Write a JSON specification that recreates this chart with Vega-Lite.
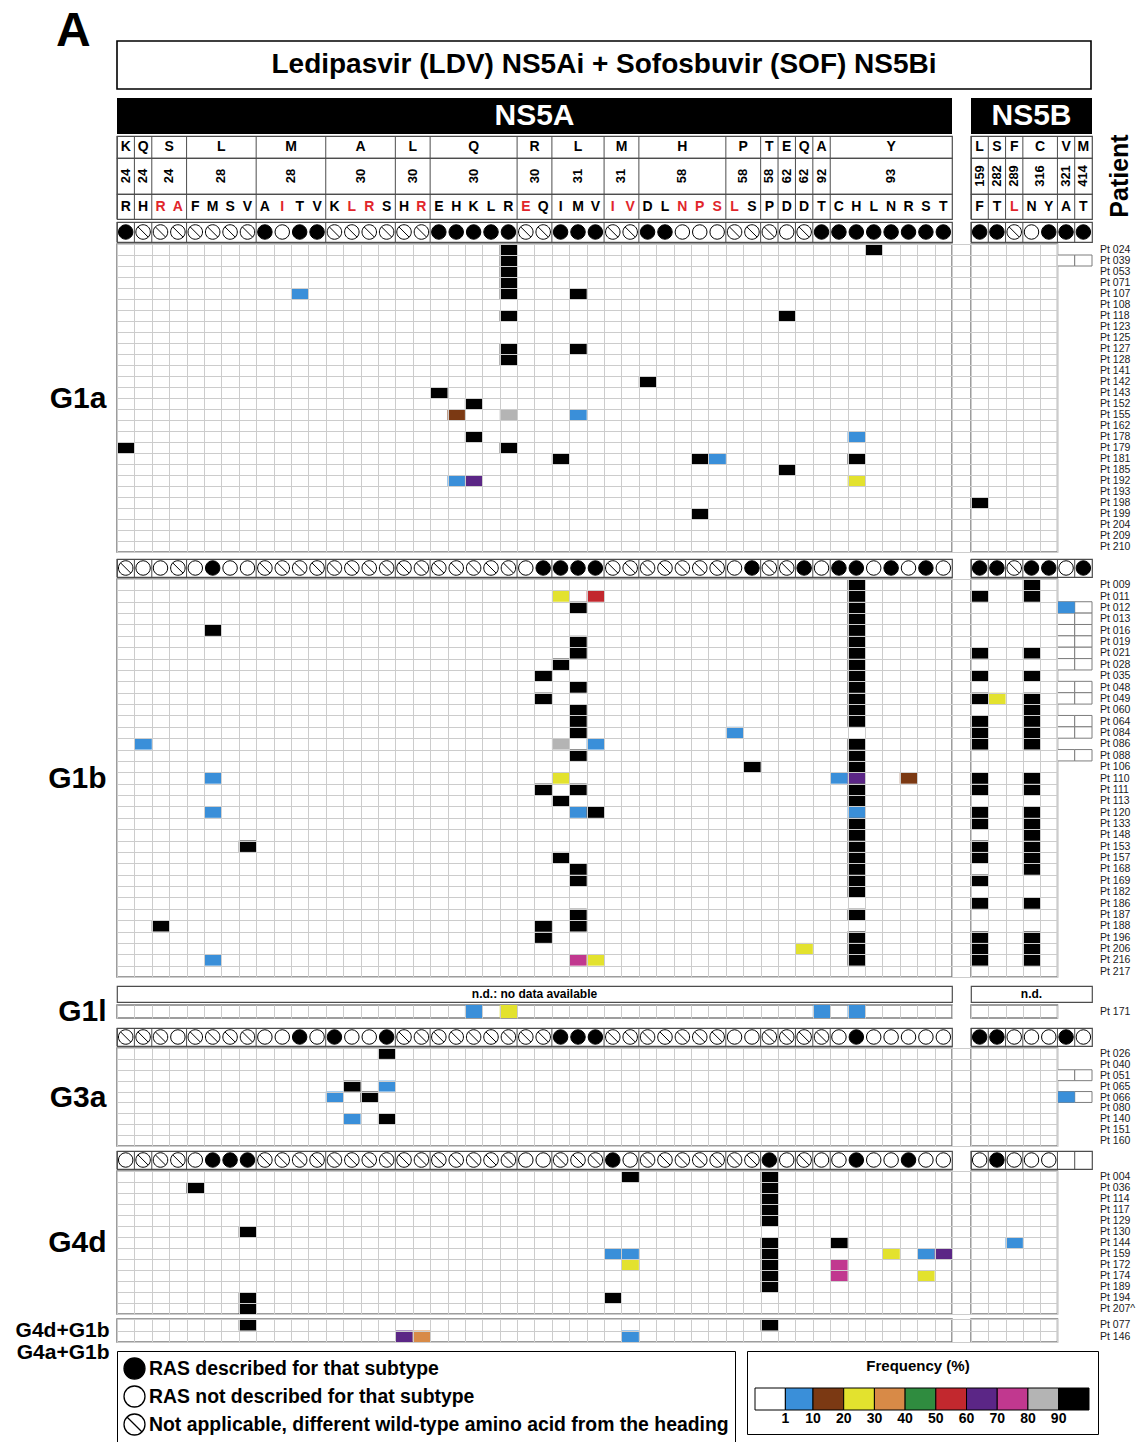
{
"$schema":"https://vega.github.io/schema/vega-lite/v6.json",
"padding":{"left":14,"top":8,"right":4,"bottom":0},
"title":{"text":"A","anchor":"start","frame":"group","fontSize":48,"fontWeight":"bold","color":"black","dx":-61,"offset":-16},
"datasets":{
"colsA":[
{"k":"K24R","aa":"R","red":0,"G1a":"R","G1b":"X","G3a":"X","G4d":"N"},
{"k":"Q24H","aa":"H","red":0,"G1a":"X","G1b":"N","G3a":"X","G4d":"X"},
{"k":"S24R","aa":"R","red":1,"G1a":"X","G1b":"N","G3a":"X","G4d":"X"},
{"k":"S24A","aa":"A","red":1,"G1a":"X","G1b":"X","G3a":"N","G4d":"X"},
{"k":"L28F","aa":"F","red":0,"G1a":"X","G1b":"N","G3a":"X","G4d":"N"},
{"k":"L28M","aa":"M","red":0,"G1a":"X","G1b":"R","G3a":"X","G4d":"R"},
{"k":"L28S","aa":"S","red":0,"G1a":"X","G1b":"N","G3a":"X","G4d":"R"},
{"k":"L28V","aa":"V","red":0,"G1a":"X","G1b":"N","G3a":"X","G4d":"R"},
{"k":"M28A","aa":"A","red":0,"G1a":"R","G1b":"X","G3a":"N","G4d":"X"},
{"k":"M28I","aa":"I","red":1,"G1a":"N","G1b":"X","G3a":"N","G4d":"X"},
{"k":"M28T","aa":"T","red":0,"G1a":"R","G1b":"X","G3a":"R","G4d":"X"},
{"k":"M28V","aa":"V","red":0,"G1a":"R","G1b":"X","G3a":"N","G4d":"X"},
{"k":"A30K","aa":"K","red":0,"G1a":"X","G1b":"X","G3a":"R","G4d":"X"},
{"k":"A30L","aa":"L","red":1,"G1a":"X","G1b":"X","G3a":"N","G4d":"X"},
{"k":"A30R","aa":"R","red":1,"G1a":"X","G1b":"X","G3a":"N","G4d":"X"},
{"k":"A30S","aa":"S","red":0,"G1a":"X","G1b":"X","G3a":"R","G4d":"X"},
{"k":"L30H","aa":"H","red":0,"G1a":"X","G1b":"X","G3a":"X","G4d":"X"},
{"k":"L30R","aa":"R","red":1,"G1a":"X","G1b":"X","G3a":"X","G4d":"X"},
{"k":"Q30E","aa":"E","red":0,"G1a":"R","G1b":"X","G3a":"X","G4d":"X"},
{"k":"Q30H","aa":"H","red":0,"G1a":"R","G1b":"X","G3a":"X","G4d":"X"},
{"k":"Q30K","aa":"K","red":0,"G1a":"R","G1b":"X","G3a":"X","G4d":"X"},
{"k":"Q30L","aa":"L","red":0,"G1a":"R","G1b":"X","G3a":"X","G4d":"X"},
{"k":"Q30R","aa":"R","red":0,"G1a":"R","G1b":"X","G3a":"X","G4d":"X"},
{"k":"R30E","aa":"E","red":1,"G1a":"X","G1b":"N","G3a":"X","G4d":"N"},
{"k":"R30Q","aa":"Q","red":0,"G1a":"X","G1b":"R","G3a":"X","G4d":"N"},
{"k":"L31I","aa":"I","red":0,"G1a":"R","G1b":"R","G3a":"R","G4d":"X"},
{"k":"L31M","aa":"M","red":0,"G1a":"R","G1b":"R","G3a":"R","G4d":"X"},
{"k":"L31V","aa":"V","red":0,"G1a":"R","G1b":"R","G3a":"R","G4d":"X"},
{"k":"M31I","aa":"I","red":1,"G1a":"X","G1b":"X","G3a":"X","G4d":"R"},
{"k":"M31V","aa":"V","red":1,"G1a":"X","G1b":"X","G3a":"X","G4d":"N"},
{"k":"H58D","aa":"D","red":0,"G1a":"R","G1b":"X","G3a":"X","G4d":"X"},
{"k":"H58L","aa":"L","red":0,"G1a":"R","G1b":"X","G3a":"X","G4d":"X"},
{"k":"H58N","aa":"N","red":1,"G1a":"N","G1b":"X","G3a":"X","G4d":"X"},
{"k":"H58P","aa":"P","red":1,"G1a":"N","G1b":"X","G3a":"X","G4d":"X"},
{"k":"H58S","aa":"S","red":1,"G1a":"N","G1b":"X","G3a":"X","G4d":"X"},
{"k":"P58L","aa":"L","red":1,"G1a":"X","G1b":"N","G3a":"N","G4d":"X"},
{"k":"P58S","aa":"S","red":0,"G1a":"X","G1b":"R","G3a":"N","G4d":"X"},
{"k":"T58P","aa":"P","red":0,"G1a":"X","G1b":"X","G3a":"X","G4d":"R"},
{"k":"E62D","aa":"D","red":0,"G1a":"N","G1b":"X","G3a":"X","G4d":"N"},
{"k":"Q62D","aa":"D","red":0,"G1a":"X","G1b":"R","G3a":"X","G4d":"X"},
{"k":"A92T","aa":"T","red":0,"G1a":"R","G1b":"N","G3a":"X","G4d":"N"},
{"k":"Y93C","aa":"C","red":0,"G1a":"R","G1b":"R","G3a":"N","G4d":"N"},
{"k":"Y93H","aa":"H","red":0,"G1a":"R","G1b":"R","G3a":"R","G4d":"R"},
{"k":"Y93L","aa":"L","red":0,"G1a":"R","G1b":"N","G3a":"N","G4d":"N"},
{"k":"Y93N","aa":"N","red":0,"G1a":"R","G1b":"R","G3a":"N","G4d":"N"},
{"k":"Y93R","aa":"R","red":0,"G1a":"R","G1b":"N","G3a":"N","G4d":"R"},
{"k":"Y93S","aa":"S","red":0,"G1a":"R","G1b":"R","G3a":"N","G4d":"N"},
{"k":"Y93T","aa":"T","red":0,"G1a":"R","G1b":"N","G3a":"N","G4d":"N"}
],
"colsB":[
{"k":"L159F","aa":"F","red":0,"G1a":"R","G1b":"R","G3a":"R","G4d":"N"},
{"k":"S282T","aa":"T","red":0,"G1a":"R","G1b":"R","G3a":"R","G4d":"R"},
{"k":"F289L","aa":"L","red":1,"G1a":"X","G1b":"X","G3a":"N","G4d":"N"},
{"k":"C316N","aa":"N","red":0,"G1a":"N","G1b":"R","G3a":"N","G4d":"N"},
{"k":"C316Y","aa":"Y","red":0,"G1a":"R","G1b":"R","G3a":"N","G4d":"N"},
{"k":"V321A","aa":"A","red":0,"G1a":"R","G1b":"N","G3a":"R","G4d":"E"},
{"k":"M414T","aa":"T","red":0,"G1a":"R","G1b":"R","G3a":"N","G4d":"E"}
],
"grpA":[
{"wt":"K","p":"24","first":"K24R","mid":"K24R","odd":1},
{"wt":"Q","p":"24","first":"Q24H","mid":"Q24H","odd":1},
{"wt":"S","p":"24","first":"S24R","mid":"S24A","odd":0},
{"wt":"L","p":"28","first":"L28F","mid":"L28S","odd":0},
{"wt":"M","p":"28","first":"M28A","mid":"M28T","odd":0},
{"wt":"A","p":"30","first":"A30K","mid":"A30R","odd":0},
{"wt":"L","p":"30","first":"L30H","mid":"L30R","odd":0},
{"wt":"Q","p":"30","first":"Q30E","mid":"Q30K","odd":1},
{"wt":"R","p":"30","first":"R30E","mid":"R30Q","odd":0},
{"wt":"L","p":"31","first":"L31I","mid":"L31M","odd":1},
{"wt":"M","p":"31","first":"M31I","mid":"M31V","odd":0},
{"wt":"H","p":"58","first":"H58D","mid":"H58N","odd":1},
{"wt":"P","p":"58","first":"P58L","mid":"P58S","odd":0},
{"wt":"T","p":"58","first":"T58P","mid":"T58P","odd":1},
{"wt":"E","p":"62","first":"E62D","mid":"E62D","odd":1},
{"wt":"Q","p":"62","first":"Q62D","mid":"Q62D","odd":1},
{"wt":"A","p":"92","first":"A92T","mid":"A92T","odd":1},
{"wt":"Y","p":"93","first":"Y93C","mid":"Y93N","odd":1}
],
"grpB":[
{"wt":"L","p":"159","first":"L159F","mid":"L159F","odd":1},
{"wt":"S","p":"282","first":"S282T","mid":"S282T","odd":1},
{"wt":"F","p":"289","first":"F289L","mid":"F289L","odd":1},
{"wt":"C","p":"316","first":"C316N","mid":"C316Y","odd":0},
{"wt":"V","p":"321","first":"V321A","mid":"V321A","odd":1},
{"wt":"M","p":"414","first":"M414T","mid":"M414T","odd":1}
],
"cA":[
{"gt":"G1a","pt":"Pt 024","k":"Q30R","f":95},{"gt":"G1a","pt":"Pt 024","k":"Y93L","f":95},
{"gt":"G1a","pt":"Pt 039","k":"Q30R","f":95},{"gt":"G1a","pt":"Pt 053","k":"Q30R","f":95},{"gt":"G1a","pt":"Pt 071","k":"Q30R","f":95},
{"gt":"G1a","pt":"Pt 107","k":"M28T","f":5},{"gt":"G1a","pt":"Pt 107","k":"Q30R","f":95},{"gt":"G1a","pt":"Pt 107","k":"L31M","f":95},
{"gt":"G1a","pt":"Pt 118","k":"Q30R","f":95},{"gt":"G1a","pt":"Pt 118","k":"E62D","f":95},
{"gt":"G1a","pt":"Pt 127","k":"Q30R","f":95},{"gt":"G1a","pt":"Pt 127","k":"L31M","f":95},
{"gt":"G1a","pt":"Pt 128","k":"Q30R","f":95},
{"gt":"G1a","pt":"Pt 142","k":"H58D","f":95},
{"gt":"G1a","pt":"Pt 143","k":"Q30E","f":95},
{"gt":"G1a","pt":"Pt 152","k":"Q30K","f":95},
{"gt":"G1a","pt":"Pt 155","k":"Q30H","f":15},{"gt":"G1a","pt":"Pt 155","k":"Q30R","f":85},{"gt":"G1a","pt":"Pt 155","k":"L31M","f":5},
{"gt":"G1a","pt":"Pt 178","k":"Q30K","f":95},{"gt":"G1a","pt":"Pt 178","k":"Y93H","f":5},
{"gt":"G1a","pt":"Pt 179","k":"K24R","f":95},{"gt":"G1a","pt":"Pt 179","k":"Q30R","f":95},
{"gt":"G1a","pt":"Pt 181","k":"L31I","f":95},{"gt":"G1a","pt":"Pt 181","k":"H58P","f":95},{"gt":"G1a","pt":"Pt 181","k":"H58S","f":5},{"gt":"G1a","pt":"Pt 181","k":"Y93H","f":95},
{"gt":"G1a","pt":"Pt 185","k":"E62D","f":95},
{"gt":"G1a","pt":"Pt 192","k":"Q30H","f":5},{"gt":"G1a","pt":"Pt 192","k":"Q30K","f":65},{"gt":"G1a","pt":"Pt 192","k":"Y93H","f":25},
{"gt":"G1a","pt":"Pt 199","k":"H58P","f":95},
{"gt":"G1b","pt":"Pt 009","k":"Y93H","f":95},
{"gt":"G1b","pt":"Pt 011","k":"L31I","f":25},{"gt":"G1b","pt":"Pt 011","k":"L31V","f":55},{"gt":"G1b","pt":"Pt 011","k":"Y93H","f":95},
{"gt":"G1b","pt":"Pt 012","k":"L31M","f":95},{"gt":"G1b","pt":"Pt 012","k":"Y93H","f":95},
{"gt":"G1b","pt":"Pt 013","k":"Y93H","f":95},
{"gt":"G1b","pt":"Pt 016","k":"L28M","f":95},{"gt":"G1b","pt":"Pt 016","k":"Y93H","f":95},
{"gt":"G1b","pt":"Pt 019","k":"L31M","f":95},{"gt":"G1b","pt":"Pt 019","k":"Y93H","f":95},
{"gt":"G1b","pt":"Pt 021","k":"L31M","f":95},{"gt":"G1b","pt":"Pt 021","k":"Y93H","f":95},
{"gt":"G1b","pt":"Pt 028","k":"L31I","f":95},{"gt":"G1b","pt":"Pt 028","k":"Y93H","f":95},
{"gt":"G1b","pt":"Pt 035","k":"R30Q","f":95},{"gt":"G1b","pt":"Pt 035","k":"Y93H","f":95},
{"gt":"G1b","pt":"Pt 048","k":"L31M","f":95},{"gt":"G1b","pt":"Pt 048","k":"Y93H","f":95},
{"gt":"G1b","pt":"Pt 049","k":"R30Q","f":95},{"gt":"G1b","pt":"Pt 049","k":"Y93H","f":95},
{"gt":"G1b","pt":"Pt 060","k":"L31M","f":95},{"gt":"G1b","pt":"Pt 060","k":"Y93H","f":95},
{"gt":"G1b","pt":"Pt 064","k":"L31M","f":95},{"gt":"G1b","pt":"Pt 064","k":"Y93H","f":95},
{"gt":"G1b","pt":"Pt 084","k":"L31M","f":95},{"gt":"G1b","pt":"Pt 084","k":"P58L","f":5},
{"gt":"G1b","pt":"Pt 086","k":"Q24H","f":5},{"gt":"G1b","pt":"Pt 086","k":"L31I","f":85},{"gt":"G1b","pt":"Pt 086","k":"L31V","f":5},{"gt":"G1b","pt":"Pt 086","k":"Y93H","f":95},
{"gt":"G1b","pt":"Pt 088","k":"L31M","f":95},{"gt":"G1b","pt":"Pt 088","k":"Y93H","f":95},
{"gt":"G1b","pt":"Pt 106","k":"P58S","f":95},{"gt":"G1b","pt":"Pt 106","k":"Y93H","f":95},
{"gt":"G1b","pt":"Pt 110","k":"L28M","f":5},{"gt":"G1b","pt":"Pt 110","k":"L31I","f":25},{"gt":"G1b","pt":"Pt 110","k":"Y93C","f":5},{"gt":"G1b","pt":"Pt 110","k":"Y93H","f":65},{"gt":"G1b","pt":"Pt 110","k":"Y93R","f":15},
{"gt":"G1b","pt":"Pt 111","k":"R30Q","f":95},{"gt":"G1b","pt":"Pt 111","k":"L31M","f":95},{"gt":"G1b","pt":"Pt 111","k":"Y93H","f":95},
{"gt":"G1b","pt":"Pt 113","k":"L31I","f":95},{"gt":"G1b","pt":"Pt 113","k":"Y93H","f":95},
{"gt":"G1b","pt":"Pt 120","k":"L28M","f":5},{"gt":"G1b","pt":"Pt 120","k":"L31M","f":5},{"gt":"G1b","pt":"Pt 120","k":"L31V","f":95},{"gt":"G1b","pt":"Pt 120","k":"Y93H","f":5},
{"gt":"G1b","pt":"Pt 133","k":"Y93H","f":95},
{"gt":"G1b","pt":"Pt 148","k":"Y93H","f":95},
{"gt":"G1b","pt":"Pt 153","k":"L28V","f":95},{"gt":"G1b","pt":"Pt 153","k":"Y93H","f":95},
{"gt":"G1b","pt":"Pt 157","k":"L31I","f":95},{"gt":"G1b","pt":"Pt 157","k":"Y93H","f":95},
{"gt":"G1b","pt":"Pt 168","k":"L31M","f":95},{"gt":"G1b","pt":"Pt 168","k":"Y93H","f":95},
{"gt":"G1b","pt":"Pt 169","k":"L31M","f":95},{"gt":"G1b","pt":"Pt 169","k":"Y93H","f":95},
{"gt":"G1b","pt":"Pt 182","k":"Y93H","f":95},
{"gt":"G1b","pt":"Pt 187","k":"L31M","f":95},{"gt":"G1b","pt":"Pt 187","k":"Y93H","f":95},
{"gt":"G1b","pt":"Pt 188","k":"S24R","f":95},{"gt":"G1b","pt":"Pt 188","k":"R30Q","f":95},{"gt":"G1b","pt":"Pt 188","k":"L31M","f":95},
{"gt":"G1b","pt":"Pt 196","k":"R30Q","f":95},{"gt":"G1b","pt":"Pt 196","k":"Y93H","f":95},
{"gt":"G1b","pt":"Pt 206","k":"Q62D","f":25},{"gt":"G1b","pt":"Pt 206","k":"Y93H","f":95},
{"gt":"G1b","pt":"Pt 216","k":"L28M","f":5},{"gt":"G1b","pt":"Pt 216","k":"L31M","f":75},{"gt":"G1b","pt":"Pt 216","k":"L31V","f":25},{"gt":"G1b","pt":"Pt 216","k":"Y93H","f":95},
{"gt":"G1l","pt":"Pt 171","k":"Q30K","f":5},{"gt":"G1l","pt":"Pt 171","k":"Q30R","f":25},{"gt":"G1l","pt":"Pt 171","k":"A92T","f":5},{"gt":"G1l","pt":"Pt 171","k":"Y93H","f":5},
{"gt":"G3a","pt":"Pt 026","k":"A30S","f":95},
{"gt":"G3a","pt":"Pt 065","k":"A30L","f":95},{"gt":"G3a","pt":"Pt 065","k":"A30S","f":5},
{"gt":"G3a","pt":"Pt 066","k":"A30K","f":5},{"gt":"G3a","pt":"Pt 066","k":"A30R","f":95},
{"gt":"G3a","pt":"Pt 140","k":"A30L","f":5},{"gt":"G3a","pt":"Pt 140","k":"A30S","f":95},
{"gt":"G4d","pt":"Pt 004","k":"M31V","f":95},{"gt":"G4d","pt":"Pt 004","k":"T58P","f":95},
{"gt":"G4d","pt":"Pt 036","k":"L28F","f":95},{"gt":"G4d","pt":"Pt 036","k":"T58P","f":95},
{"gt":"G4d","pt":"Pt 114","k":"T58P","f":95},
{"gt":"G4d","pt":"Pt 117","k":"T58P","f":95},
{"gt":"G4d","pt":"Pt 129","k":"T58P","f":95},
{"gt":"G4d","pt":"Pt 130","k":"L28V","f":95},
{"gt":"G4d","pt":"Pt 144","k":"T58P","f":95},{"gt":"G4d","pt":"Pt 144","k":"Y93C","f":95},
{"gt":"G4d","pt":"Pt 159","k":"M31I","f":5},{"gt":"G4d","pt":"Pt 159","k":"M31V","f":5},{"gt":"G4d","pt":"Pt 159","k":"T58P","f":95},{"gt":"G4d","pt":"Pt 159","k":"Y93N","f":25},{"gt":"G4d","pt":"Pt 159","k":"Y93S","f":5},{"gt":"G4d","pt":"Pt 159","k":"Y93T","f":65},
{"gt":"G4d","pt":"Pt 172","k":"M31V","f":25},{"gt":"G4d","pt":"Pt 172","k":"T58P","f":95},{"gt":"G4d","pt":"Pt 172","k":"Y93C","f":75},
{"gt":"G4d","pt":"Pt 174","k":"T58P","f":95},{"gt":"G4d","pt":"Pt 174","k":"Y93C","f":75},{"gt":"G4d","pt":"Pt 174","k":"Y93S","f":25},
{"gt":"G4d","pt":"Pt 189","k":"T58P","f":95},
{"gt":"G4d","pt":"Pt 194","k":"L28V","f":95},{"gt":"G4d","pt":"Pt 194","k":"M31I","f":95},
{"gt":"G4d","pt":"Pt 207^","k":"L28V","f":95},
{"gt":"MX","pt":"Pt 077","k":"L28V","f":95},{"gt":"MX","pt":"Pt 077","k":"T58P","f":95},
{"gt":"MX","pt":"Pt 146","k":"L30H","f":65},{"gt":"MX","pt":"Pt 146","k":"L30R","f":35},{"gt":"MX","pt":"Pt 146","k":"M31V","f":5}
],
"cB":[
{"gt":"G1a","pt":"Pt 198","k":"L159F","f":95},
{"gt":"G1b","pt":"Pt 009","k":"C316N","f":95},
{"gt":"G1b","pt":"Pt 011","k":"L159F","f":95},{"gt":"G1b","pt":"Pt 011","k":"C316N","f":95},
{"gt":"G1b","pt":"Pt 012","k":"V321A","f":5},
{"gt":"G1b","pt":"Pt 021","k":"L159F","f":95},{"gt":"G1b","pt":"Pt 021","k":"C316N","f":95},
{"gt":"G1b","pt":"Pt 035","k":"L159F","f":95},{"gt":"G1b","pt":"Pt 035","k":"C316N","f":95},
{"gt":"G1b","pt":"Pt 049","k":"L159F","f":95},{"gt":"G1b","pt":"Pt 049","k":"S282T","f":25},{"gt":"G1b","pt":"Pt 049","k":"C316N","f":95},
{"gt":"G1b","pt":"Pt 060","k":"C316N","f":95},
{"gt":"G1b","pt":"Pt 064","k":"L159F","f":95},{"gt":"G1b","pt":"Pt 064","k":"C316N","f":95},
{"gt":"G1b","pt":"Pt 084","k":"L159F","f":95},{"gt":"G1b","pt":"Pt 084","k":"C316N","f":95},
{"gt":"G1b","pt":"Pt 086","k":"L159F","f":95},{"gt":"G1b","pt":"Pt 086","k":"C316N","f":95},
{"gt":"G1b","pt":"Pt 110","k":"L159F","f":95},{"gt":"G1b","pt":"Pt 110","k":"C316N","f":95},
{"gt":"G1b","pt":"Pt 111","k":"L159F","f":95},{"gt":"G1b","pt":"Pt 111","k":"C316N","f":95},
{"gt":"G1b","pt":"Pt 120","k":"L159F","f":95},{"gt":"G1b","pt":"Pt 120","k":"C316N","f":95},
{"gt":"G1b","pt":"Pt 133","k":"L159F","f":95},{"gt":"G1b","pt":"Pt 133","k":"C316N","f":95},
{"gt":"G1b","pt":"Pt 148","k":"C316N","f":95},
{"gt":"G1b","pt":"Pt 153","k":"L159F","f":95},{"gt":"G1b","pt":"Pt 153","k":"C316N","f":95},
{"gt":"G1b","pt":"Pt 157","k":"L159F","f":95},{"gt":"G1b","pt":"Pt 157","k":"C316N","f":95},
{"gt":"G1b","pt":"Pt 168","k":"C316N","f":95},
{"gt":"G1b","pt":"Pt 169","k":"L159F","f":95},
{"gt":"G1b","pt":"Pt 186","k":"L159F","f":95},{"gt":"G1b","pt":"Pt 186","k":"C316N","f":95},
{"gt":"G1b","pt":"Pt 196","k":"L159F","f":95},{"gt":"G1b","pt":"Pt 196","k":"C316N","f":95},
{"gt":"G1b","pt":"Pt 206","k":"L159F","f":95},{"gt":"G1b","pt":"Pt 206","k":"C316N","f":95},
{"gt":"G1b","pt":"Pt 216","k":"L159F","f":95},{"gt":"G1b","pt":"Pt 216","k":"C316N","f":95},
{"gt":"G3a","pt":"Pt 066","k":"V321A","f":5},
{"gt":"G4d","pt":"Pt 144","k":"F289L","f":5}
],
"xB":[
{"gt":"G1a","pt":"Pt 039","k":"V321A"},{"gt":"G1a","pt":"Pt 039","k":"M414T"},
{"gt":"G1b","pt":"Pt 012","k":"V321A"},{"gt":"G1b","pt":"Pt 012","k":"M414T"},
{"gt":"G1b","pt":"Pt 013","k":"V321A"},{"gt":"G1b","pt":"Pt 013","k":"M414T"},
{"gt":"G1b","pt":"Pt 016","k":"V321A"},{"gt":"G1b","pt":"Pt 016","k":"M414T"},
{"gt":"G1b","pt":"Pt 019","k":"V321A"},{"gt":"G1b","pt":"Pt 019","k":"M414T"},
{"gt":"G1b","pt":"Pt 021","k":"V321A"},{"gt":"G1b","pt":"Pt 021","k":"M414T"},
{"gt":"G1b","pt":"Pt 028","k":"V321A"},{"gt":"G1b","pt":"Pt 028","k":"M414T"},
{"gt":"G1b","pt":"Pt 048","k":"V321A"},{"gt":"G1b","pt":"Pt 048","k":"M414T"},
{"gt":"G1b","pt":"Pt 049","k":"V321A"},{"gt":"G1b","pt":"Pt 049","k":"M414T"},
{"gt":"G1b","pt":"Pt 064","k":"V321A"},{"gt":"G1b","pt":"Pt 064","k":"M414T"},
{"gt":"G1b","pt":"Pt 084","k":"V321A"},{"gt":"G1b","pt":"Pt 084","k":"M414T"},
{"gt":"G1b","pt":"Pt 088","k":"V321A"},{"gt":"G1b","pt":"Pt 088","k":"M414T"},
{"gt":"G3a","pt":"Pt 051","k":"V321A"},{"gt":"G3a","pt":"Pt 051","k":"M414T"},
{"gt":"G3a","pt":"Pt 066","k":"V321A"},{"gt":"G3a","pt":"Pt 066","k":"M414T"}
]
},
"columns":2,
"spacing":{"row":0,"column":19},
"bounds":"flush",
"align":"each",
"concat":[
{"width":835,"height":48,"data":{"values":[{"t":"Ledipasvir (LDV) NS5Ai + Sofosbuvir (SOF) NS5Bi"}]},"encoding":{"x":{"field":"t","type":"nominal","scale":{"range":[0,974],"paddingInner":0,"paddingOuter":0},"axis":null}},"layer":[{"mark":{"type":"rect","fill":"white","stroke":"black","strokeWidth":1.6}},{"mark":{"type":"text","fontSize":28,"fontWeight":"bold"},"encoding":{"text":{"field":"t"}}}]},
{"width":1,"height":48,"data":{"values":[]},"mark":"text","encoding":{}},
{"width":1,"height":9,"data":{"values":[]},"mark":"text","encoding":{}},
{"width":1,"height":9,"data":{"values":[]},"mark":"text","encoding":{}},
{"width":835,"height":36,"view":{"fill":"black","stroke":null},"data":{"values":[{"t":"NS5A"}]},"mark":{"type":"text","fontSize":30,"fontWeight":"bold","color":"white"},"encoding":{"text":{"field":"t"}}},
{"width":121,"height":36,"view":{"fill":"black","stroke":null},"data":{"values":[{"t":"NS5B"}]},"mark":{"type":"text","fontSize":30,"fontWeight":"bold","color":"white"},"encoding":{"text":{"field":"t"}}},
{"width":1,"height":2,"data":{"values":[]},"mark":"text","encoding":{}},
{"width":1,"height":2,"data":{"values":[]},"mark":"text","encoding":{}},
{"width":835,"height":22,"view":{"stroke":"#4d4d4d","strokeWidth":1.2},"data":{"name":"grpA"},"layer":[
 {"transform":[{"filter":"datum.odd == 1"}],"mark":{"type":"text","fontSize":14,"fontWeight":"bold"},"encoding":{"x":{"field":"mid","type":"nominal","scale":{"domain":["K24R","Q24H","S24R","S24A","L28F","L28M","L28S","L28V","M28A","M28I","M28T","M28V","A30K","A30L","A30R","A30S","L30H","L30R","Q30E","Q30H","Q30K","Q30L","Q30R","R30E","R30Q","L31I","L31M","L31V","M31I","M31V","H58D","H58L","H58N","H58P","H58S","P58L","P58S","T58P","E62D","Q62D","A92T","Y93C","Y93H","Y93L","Y93N","Y93R","Y93S","Y93T"],"paddingInner":0,"paddingOuter":0},"axis":null},"text":{"field":"wt"}}},
 {"transform":[{"filter":"datum.odd == 0"}],"mark":{"type":"text","fontSize":14,"fontWeight":"bold"},"encoding":{"x":{"field":"mid","type":"nominal","bandPosition":0,"scale":{"domain":["K24R","Q24H","S24R","S24A","L28F","L28M","L28S","L28V","M28A","M28I","M28T","M28V","A30K","A30L","A30R","A30S","L30H","L30R","Q30E","Q30H","Q30K","Q30L","Q30R","R30E","R30Q","L31I","L31M","L31V","M31I","M31V","H58D","H58L","H58N","H58P","H58S","P58L","P58S","T58P","E62D","Q62D","A92T","Y93C","Y93H","Y93L","Y93N","Y93R","Y93S","Y93T"],"paddingInner":0,"paddingOuter":0},"axis":null},"text":{"field":"wt"}}},
 {"mark":{"type":"rule","color":"#4d4d4d","strokeWidth":1},"encoding":{"x":{"field":"first","type":"nominal","bandPosition":0,"scale":{"domain":["K24R","Q24H","S24R","S24A","L28F","L28M","L28S","L28V","M28A","M28I","M28T","M28V","A30K","A30L","A30R","A30S","L30H","L30R","Q30E","Q30H","Q30K","Q30L","Q30R","R30E","R30Q","L31I","L31M","L31V","M31I","M31V","H58D","H58L","H58N","H58P","H58S","P58L","P58S","T58P","E62D","Q62D","A92T","Y93C","Y93H","Y93L","Y93N","Y93R","Y93S","Y93T"],"paddingInner":0,"paddingOuter":0},"axis":null}}}
]},
{"width":121,"height":22,"view":{"stroke":"#4d4d4d","strokeWidth":1.2},"data":{"name":"grpB"},"layer":[
 {"transform":[{"filter":"datum.odd == 1"}],"mark":{"type":"text","fontSize":14,"fontWeight":"bold"},"encoding":{"x":{"field":"mid","type":"nominal","scale":{"domain":["L159F","S282T","F289L","C316N","C316Y","V321A","M414T"],"paddingInner":0,"paddingOuter":0},"axis":null},"text":{"field":"wt"}}},
 {"transform":[{"filter":"datum.odd == 0"}],"mark":{"type":"text","fontSize":14,"fontWeight":"bold"},"encoding":{"x":{"field":"mid","type":"nominal","bandPosition":0,"scale":{"domain":["L159F","S282T","F289L","C316N","C316Y","V321A","M414T"],"paddingInner":0,"paddingOuter":0},"axis":null},"text":{"field":"wt"}}},
 {"mark":{"type":"rule","color":"#4d4d4d","strokeWidth":1},"encoding":{"x":{"field":"first","type":"nominal","bandPosition":0,"scale":{"domain":["L159F","S282T","F289L","C316N","C316Y","V321A","M414T"],"paddingInner":0,"paddingOuter":0},"axis":null}}}
]},
{"width":835,"height":36,"view":{"stroke":"#4d4d4d","strokeWidth":1.2},"data":{"name":"grpA"},"layer":[
 {"transform":[{"filter":"datum.odd == 1"}],"mark":{"type":"text","fontSize":13,"fontWeight":"bold","angle":270},"encoding":{"x":{"field":"mid","type":"nominal","scale":{"domain":["K24R","Q24H","S24R","S24A","L28F","L28M","L28S","L28V","M28A","M28I","M28T","M28V","A30K","A30L","A30R","A30S","L30H","L30R","Q30E","Q30H","Q30K","Q30L","Q30R","R30E","R30Q","L31I","L31M","L31V","M31I","M31V","H58D","H58L","H58N","H58P","H58S","P58L","P58S","T58P","E62D","Q62D","A92T","Y93C","Y93H","Y93L","Y93N","Y93R","Y93S","Y93T"],"paddingInner":0,"paddingOuter":0},"axis":null},"text":{"field":"p"}}},
 {"transform":[{"filter":"datum.odd == 0"}],"mark":{"type":"text","fontSize":13,"fontWeight":"bold","angle":270},"encoding":{"x":{"field":"mid","type":"nominal","bandPosition":0,"scale":{"domain":["K24R","Q24H","S24R","S24A","L28F","L28M","L28S","L28V","M28A","M28I","M28T","M28V","A30K","A30L","A30R","A30S","L30H","L30R","Q30E","Q30H","Q30K","Q30L","Q30R","R30E","R30Q","L31I","L31M","L31V","M31I","M31V","H58D","H58L","H58N","H58P","H58S","P58L","P58S","T58P","E62D","Q62D","A92T","Y93C","Y93H","Y93L","Y93N","Y93R","Y93S","Y93T"],"paddingInner":0,"paddingOuter":0},"axis":null},"text":{"field":"p"}}},
 {"mark":{"type":"rule","color":"#4d4d4d","strokeWidth":1},"encoding":{"x":{"field":"first","type":"nominal","bandPosition":0,"scale":{"domain":["K24R","Q24H","S24R","S24A","L28F","L28M","L28S","L28V","M28A","M28I","M28T","M28V","A30K","A30L","A30R","A30S","L30H","L30R","Q30E","Q30H","Q30K","Q30L","Q30R","R30E","R30Q","L31I","L31M","L31V","M31I","M31V","H58D","H58L","H58N","H58P","H58S","P58L","P58S","T58P","E62D","Q62D","A92T","Y93C","Y93H","Y93L","Y93N","Y93R","Y93S","Y93T"],"paddingInner":0,"paddingOuter":0},"axis":null}}}
]},
{"width":121,"height":36,"view":{"stroke":"#4d4d4d","strokeWidth":1.2},"title":{"text":"Patient","orient":"right","frame":"group","angle":270,"baseline":"top","anchor":"middle","fontSize":25,"fontWeight":"bold","color":"black","offset":-9},"data":{"name":"grpB"},"layer":[
 {"transform":[{"filter":"datum.odd == 1"}],"mark":{"type":"text","fontSize":13,"fontWeight":"bold","angle":270},"encoding":{"x":{"field":"mid","type":"nominal","scale":{"domain":["L159F","S282T","F289L","C316N","C316Y","V321A","M414T"],"paddingInner":0,"paddingOuter":0},"axis":null},"text":{"field":"p"}}},
 {"transform":[{"filter":"datum.odd == 0"}],"mark":{"type":"text","fontSize":13,"fontWeight":"bold","angle":270},"encoding":{"x":{"field":"mid","type":"nominal","bandPosition":0,"scale":{"domain":["L159F","S282T","F289L","C316N","C316Y","V321A","M414T"],"paddingInner":0,"paddingOuter":0},"axis":null},"text":{"field":"p"}}},
 {"mark":{"type":"rule","color":"#4d4d4d","strokeWidth":1},"encoding":{"x":{"field":"first","type":"nominal","bandPosition":0,"scale":{"domain":["L159F","S282T","F289L","C316N","C316Y","V321A","M414T"],"paddingInner":0,"paddingOuter":0},"axis":null}}}
]},
{"width":835,"height":25,"view":{"stroke":"#4d4d4d","strokeWidth":1.2},"layer":[
 {"data":{"name":"colsA"},"mark":{"type":"text","fontSize":14,"fontWeight":"bold"},"encoding":{"x":{"field":"k","type":"nominal","scale":{"domain":["K24R","Q24H","S24R","S24A","L28F","L28M","L28S","L28V","M28A","M28I","M28T","M28V","A30K","A30L","A30R","A30S","L30H","L30R","Q30E","Q30H","Q30K","Q30L","Q30R","R30E","R30Q","L31I","L31M","L31V","M31I","M31V","H58D","H58L","H58N","H58P","H58S","P58L","P58S","T58P","E62D","Q62D","A92T","Y93C","Y93H","Y93L","Y93N","Y93R","Y93S","Y93T"],"paddingInner":0,"paddingOuter":0},"axis":null},"text":{"field":"aa"},"color":{"condition":{"test":"datum.red == 1","value":"#e1252b"},"value":"black"}}},
 {"data":{"name":"grpA"},"mark":{"type":"rule","color":"#4d4d4d","strokeWidth":1},"encoding":{"x":{"field":"first","type":"nominal","bandPosition":0,"scale":{"domain":["K24R","Q24H","S24R","S24A","L28F","L28M","L28S","L28V","M28A","M28I","M28T","M28V","A30K","A30L","A30R","A30S","L30H","L30R","Q30E","Q30H","Q30K","Q30L","Q30R","R30E","R30Q","L31I","L31M","L31V","M31I","M31V","H58D","H58L","H58N","H58P","H58S","P58L","P58S","T58P","E62D","Q62D","A92T","Y93C","Y93H","Y93L","Y93N","Y93R","Y93S","Y93T"],"paddingInner":0,"paddingOuter":0},"axis":null}}}
]},
{"width":121,"height":25,"view":{"stroke":"#4d4d4d","strokeWidth":1.2},"layer":[
 {"data":{"name":"colsB"},"mark":{"type":"text","fontSize":14,"fontWeight":"bold"},"encoding":{"x":{"field":"k","type":"nominal","scale":{"domain":["L159F","S282T","F289L","C316N","C316Y","V321A","M414T"],"paddingInner":0,"paddingOuter":0},"axis":null},"text":{"field":"aa"},"color":{"condition":{"test":"datum.red == 1","value":"#e1252b"},"value":"black"}}},
 {"data":{"name":"grpB"},"mark":{"type":"rule","color":"#4d4d4d","strokeWidth":1},"encoding":{"x":{"field":"first","type":"nominal","bandPosition":0,"scale":{"domain":["L159F","S282T","F289L","C316N","C316Y","V321A","M414T"],"paddingInner":0,"paddingOuter":0},"axis":null}}}
]},
{"width":1,"height":3,"data":{"values":[]},"mark":"text","encoding":{}},
{"width":1,"height":3,"data":{"values":[]},"mark":"text","encoding":{}},
{"width":835,"height":20,"view":{"stroke":"#4d4d4d","strokeWidth":1.2},"layer":[
 {"data":{"name":"colsA"},"mark":{"type":"point","filled":true,"size":210,"strokeWidth":1,"opacity":1},"encoding":{"x":{"field":"k","type":"nominal","scale":{"domain":["K24R","Q24H","S24R","S24A","L28F","L28M","L28S","L28V","M28A","M28I","M28T","M28V","A30K","A30L","A30R","A30S","L30H","L30R","Q30E","Q30H","Q30K","Q30L","Q30R","R30E","R30Q","L31I","L31M","L31V","M31I","M31V","H58D","H58L","H58N","H58P","H58S","P58L","P58S","T58P","E62D","Q62D","A92T","Y93C","Y93H","Y93L","Y93N","Y93R","Y93S","Y93T"],"paddingInner":0,"paddingOuter":0},"axis":null},
  "fill":{"field":"G1a","type":"nominal","scale":{"domain":["R","N","X"],"range":["black","white","white"]},"legend":{"title":null,"orient":"none","legendX":0,"legendY":1310,"labelExpr":"datum.label == 'R' ? 'RAS described for that subtype' : datum.label == 'N' ? 'RAS not described for that subtype' : 'Not applicable, different wild-type amino acid from the heading'","labelFont":"Liberation Sans","labelFontSize":19.4,"labelFontWeight":"bold","labelColor":"black","labelLimit":900,"labelOffset":3,"symbolSize":440,"symbolStrokeWidth":1.3,"rowPadding":1,"strokeColor":"black","fillColor":"white","padding":6}},
  "stroke":{"field":"G1a","type":"nominal","scale":{"domain":["R","N","X"],"range":["black","black","black"]},"legend":{"title":null,"orient":"none","legendX":0,"legendY":1310,"labelExpr":"datum.label == 'R' ? 'RAS described for that subtype' : datum.label == 'N' ? 'RAS not described for that subtype' : 'Not applicable, different wild-type amino acid from the heading'","labelFont":"Liberation Sans","labelFontSize":19.4,"labelFontWeight":"bold","labelColor":"black","labelLimit":900,"labelOffset":3,"symbolSize":440,"symbolStrokeWidth":1.3,"rowPadding":1,"strokeColor":"black","fillColor":"white","padding":6}},
  "shape":{"field":"G1a","type":"nominal","scale":{"domain":["R","N","X"],"range":["circle","circle","M-1,0A1,1,0,1,1,1,0A1,1,0,1,1,-1,0ZM-0.72,-0.72L0.72,0.72"]},"legend":{"title":null,"orient":"none","legendX":0,"legendY":1310,"labelExpr":"datum.label == 'R' ? 'RAS described for that subtype' : datum.label == 'N' ? 'RAS not described for that subtype' : 'Not applicable, different wild-type amino acid from the heading'","labelFont":"Liberation Sans","labelFontSize":19.4,"labelFontWeight":"bold","labelColor":"black","labelLimit":900,"labelOffset":3,"symbolSize":440,"symbolStrokeWidth":1.3,"rowPadding":1,"strokeColor":"black","fillColor":"white","padding":6}}}},
 {"data":{"name":"grpA"},"mark":{"type":"rule","color":"#4d4d4d","strokeWidth":1},"encoding":{"x":{"field":"first","type":"nominal","bandPosition":0,"scale":{"domain":["K24R","Q24H","S24R","S24A","L28F","L28M","L28S","L28V","M28A","M28I","M28T","M28V","A30K","A30L","A30R","A30S","L30H","L30R","Q30E","Q30H","Q30K","Q30L","Q30R","R30E","R30Q","L31I","L31M","L31V","M31I","M31V","H58D","H58L","H58N","H58P","H58S","P58L","P58S","T58P","E62D","Q62D","A92T","Y93C","Y93H","Y93L","Y93N","Y93R","Y93S","Y93T"],"paddingInner":0,"paddingOuter":0},"axis":null}}}
]},
{"width":121,"height":20,"view":{"stroke":"#4d4d4d","strokeWidth":1.2},"layer":[
 {"data":{"name":"colsB"},"mark":{"type":"point","filled":true,"size":210,"strokeWidth":1,"opacity":1},"encoding":{"x":{"field":"k","type":"nominal","scale":{"domain":["L159F","S282T","F289L","C316N","C316Y","V321A","M414T"],"paddingInner":0,"paddingOuter":0},"axis":null},"fill":{"field":"G1a","type":"nominal","scale":{"domain":["R","N","X"],"range":["black","white","white"]}},"stroke":{"field":"G1a","type":"nominal","scale":{"domain":["R","N","X"],"range":["black","black","black"]}},"shape":{"field":"G1a","type":"nominal","scale":{"domain":["R","N","X"],"range":["circle","circle","M-1,0A1,1,0,1,1,1,0A1,1,0,1,1,-1,0ZM-0.72,-0.72L0.72,0.72"]}}}},
 {"data":{"name":"grpB"},"mark":{"type":"rule","color":"#4d4d4d","strokeWidth":1},"encoding":{"x":{"field":"first","type":"nominal","bandPosition":0,"scale":{"domain":["L159F","S282T","F289L","C316N","C316Y","V321A","M414T"],"paddingInner":0,"paddingOuter":0},"axis":null}}}
]},
{"width":1,"height":2,"data":{"values":[]},"mark":"text","encoding":{}},
{"width":1,"height":2,"data":{"values":[]},"mark":"text","encoding":{}},
{"width":835,"height":308,"view":{"stroke":"#7d7d7d","strokeWidth":1.5},"data":{"name":"cA"},"transform":[{"filter":"datum.gt == 'G1a'"}],"mark":{"type":"rect"},"encoding":{
 "x":{"field":"k","type":"nominal","scale":{"domain":["K24R","Q24H","S24R","S24A","L28F","L28M","L28S","L28V","M28A","M28I","M28T","M28V","A30K","A30L","A30R","A30S","L30H","L30R","Q30E","Q30H","Q30K","Q30L","Q30R","R30E","R30Q","L31I","L31M","L31V","M31I","M31V","H58D","H58L","H58N","H58P","H58S","P58L","P58S","T58P","E62D","Q62D","A92T","Y93C","Y93H","Y93L","Y93N","Y93R","Y93S","Y93T"],"paddingInner":0,"paddingOuter":0},"axis":{"orient":"top","labels":false,"ticks":false,"domain":false,"title":null,"grid":true,"tickBand":"extent","gridColor":"#cccccc","gridWidth":1}},
 "y":{"field":"pt","type":"nominal","scale":{"domain":["Pt 024","Pt 039","Pt 053","Pt 071","Pt 107","Pt 108","Pt 118","Pt 123","Pt 125","Pt 127","Pt 128","Pt 141","Pt 142","Pt 143","Pt 152","Pt 155","Pt 162","Pt 178","Pt 179","Pt 181","Pt 185","Pt 192","Pt 193","Pt 198","Pt 199","Pt 204","Pt 209","Pt 210"],"paddingInner":0,"paddingOuter":0},"axis":{"labels":false,"ticks":false,"domain":false,"grid":true,"tickBand":"extent","gridColor":"#cccccc","title":"G1a","titleAngle":0,"titleAlign":"right","titleBaseline":"middle","titleFontSize":30,"titleFontWeight":"bold","titlePadding":11,"titleColor":"black"}},
 "color":{"field":"f","type":"quantitative","scale":{"type":"threshold","domain":[1,10,20,30,40,50,60,70,80,90],"range":["#ffffff","#3a8fd9","#7b3913","#e3e22e","#d88a47","#2f8c3f","#c2282e","#5b2686","#c1388f","#b4b4b4","#000000"]},"legend":{"type":"gradient","title":"Frequency (%)","orient":"none","legendX":630,"legendY":1310,"direction":"horizontal","gradientLength":334,"gradientThickness":22,"titleAnchor":"middle","titleFontSize":15,"titleFontWeight":"bold","titleColor":"black","titlePadding":14,"labelFontSize":14,"labelFontWeight":"bold","labelColor":"black","labelOverlap":false,"strokeColor":"black","fillColor":"white","padding":8,"gradientStrokeColor":"black","gradientStrokeWidth":1}}}},
{"width":86.5,"height":308,"view":{"stroke":"#7d7d7d","strokeWidth":1.5},"encoding":{
 "x":{"field":"k","type":"nominal","scale":{"domain":["L159F","S282T","F289L","C316N","C316Y","V321A","M414T"],"range":[0,121],"paddingInner":0,"paddingOuter":0},"axis":{"orient":"top","labels":false,"ticks":false,"domain":false,"title":null,"grid":true,"tickBand":"extent","gridColor":"#cccccc","values":["L159F","S282T","F289L","C316N","C316Y"]}},
 "y":{"field":"pt","type":"nominal","scale":{"domain":["Pt 024","Pt 039","Pt 053","Pt 071","Pt 107","Pt 108","Pt 118","Pt 123","Pt 125","Pt 127","Pt 128","Pt 141","Pt 142","Pt 143","Pt 152","Pt 155","Pt 162","Pt 178","Pt 179","Pt 181","Pt 185","Pt 192","Pt 193","Pt 198","Pt 199","Pt 204","Pt 209","Pt 210"],"paddingInner":0,"paddingOuter":0},"axis":{"orient":"right","ticks":false,"domain":false,"grid":true,"tickBand":"extent","gridColor":"#cccccc","title":null,"labelFontSize":10.5,"labelPadding":42,"labelColor":"#1a1a1a","labelOverlap":false,"labelBound":false}}},
 "layer":[
 {"data":{"name":"xB"},"transform":[{"filter":"datum.gt == 'G1a'"}],"mark":{"type":"rect","fill":"white","stroke":"#7d7d7d","strokeWidth":1}},
 {"data":{"name":"cB"},"transform":[{"filter":"datum.gt == 'G1a'"}],"mark":{"type":"rect"},"encoding":{"color":{"field":"f","type":"quantitative","scale":{"type":"threshold","domain":[1,10,20,30,40,50,60,70,80,90],"range":["#ffffff","#3a8fd9","#7b3913","#e3e22e","#d88a47","#2f8c3f","#c2282e","#5b2686","#c1388f","#b4b4b4","#000000"]}}}}
]},
{"width":1,"height":7,"data":{"values":[]},"mark":"text","encoding":{}},
{"width":1,"height":7,"data":{"values":[]},"mark":"text","encoding":{}},
{"width":835,"height":18,"view":{"stroke":"#4d4d4d","strokeWidth":1.2},"layer":[
 {"data":{"name":"colsA"},"mark":{"type":"point","filled":true,"size":210,"strokeWidth":1,"opacity":1},"encoding":{"x":{"field":"k","type":"nominal","scale":{"domain":["K24R","Q24H","S24R","S24A","L28F","L28M","L28S","L28V","M28A","M28I","M28T","M28V","A30K","A30L","A30R","A30S","L30H","L30R","Q30E","Q30H","Q30K","Q30L","Q30R","R30E","R30Q","L31I","L31M","L31V","M31I","M31V","H58D","H58L","H58N","H58P","H58S","P58L","P58S","T58P","E62D","Q62D","A92T","Y93C","Y93H","Y93L","Y93N","Y93R","Y93S","Y93T"],"paddingInner":0,"paddingOuter":0},"axis":null},"fill":{"field":"G1b","type":"nominal","scale":{"domain":["R","N","X"],"range":["black","white","white"]}},"stroke":{"field":"G1b","type":"nominal","scale":{"domain":["R","N","X"],"range":["black","black","black"]}},"shape":{"field":"G1b","type":"nominal","scale":{"domain":["R","N","X"],"range":["circle","circle","M-1,0A1,1,0,1,1,1,0A1,1,0,1,1,-1,0ZM-0.72,-0.72L0.72,0.72"]}}}},
 {"data":{"name":"grpA"},"mark":{"type":"rule","color":"#4d4d4d","strokeWidth":1},"encoding":{"x":{"field":"first","type":"nominal","bandPosition":0,"scale":{"domain":["K24R","Q24H","S24R","S24A","L28F","L28M","L28S","L28V","M28A","M28I","M28T","M28V","A30K","A30L","A30R","A30S","L30H","L30R","Q30E","Q30H","Q30K","Q30L","Q30R","R30E","R30Q","L31I","L31M","L31V","M31I","M31V","H58D","H58L","H58N","H58P","H58S","P58L","P58S","T58P","E62D","Q62D","A92T","Y93C","Y93H","Y93L","Y93N","Y93R","Y93S","Y93T"],"paddingInner":0,"paddingOuter":0},"axis":null}}}
]},
{"width":121,"height":18,"view":{"stroke":"#4d4d4d","strokeWidth":1.2},"layer":[
 {"data":{"name":"colsB"},"mark":{"type":"point","filled":true,"size":210,"strokeWidth":1,"opacity":1},"encoding":{"x":{"field":"k","type":"nominal","scale":{"domain":["L159F","S282T","F289L","C316N","C316Y","V321A","M414T"],"paddingInner":0,"paddingOuter":0},"axis":null},"fill":{"field":"G1b","type":"nominal","scale":{"domain":["R","N","X"],"range":["black","white","white"]}},"stroke":{"field":"G1b","type":"nominal","scale":{"domain":["R","N","X"],"range":["black","black","black"]}},"shape":{"field":"G1b","type":"nominal","scale":{"domain":["R","N","X"],"range":["circle","circle","M-1,0A1,1,0,1,1,1,0A1,1,0,1,1,-1,0ZM-0.72,-0.72L0.72,0.72"]}}}},
 {"data":{"name":"grpB"},"mark":{"type":"rule","color":"#4d4d4d","strokeWidth":1},"encoding":{"x":{"field":"first","type":"nominal","bandPosition":0,"scale":{"domain":["L159F","S282T","F289L","C316N","C316Y","V321A","M414T"],"paddingInner":0,"paddingOuter":0},"axis":null}}}
]},
{"width":1,"height":2,"data":{"values":[]},"mark":"text","encoding":{}},
{"width":1,"height":2,"data":{"values":[]},"mark":"text","encoding":{}},
{"width":835,"height":398,"view":{"stroke":"#7d7d7d","strokeWidth":1.5},"data":{"name":"cA"},"transform":[{"filter":"datum.gt == 'G1b'"}],"mark":{"type":"rect"},"encoding":{
 "x":{"field":"k","type":"nominal","scale":{"domain":["K24R","Q24H","S24R","S24A","L28F","L28M","L28S","L28V","M28A","M28I","M28T","M28V","A30K","A30L","A30R","A30S","L30H","L30R","Q30E","Q30H","Q30K","Q30L","Q30R","R30E","R30Q","L31I","L31M","L31V","M31I","M31V","H58D","H58L","H58N","H58P","H58S","P58L","P58S","T58P","E62D","Q62D","A92T","Y93C","Y93H","Y93L","Y93N","Y93R","Y93S","Y93T"],"paddingInner":0,"paddingOuter":0},"axis":{"orient":"top","labels":false,"ticks":false,"domain":false,"title":null,"grid":true,"tickBand":"extent","gridColor":"#cccccc","gridWidth":1}},
 "y":{"field":"pt","type":"nominal","scale":{"domain":["Pt 009","Pt 011","Pt 012","Pt 013","Pt 016","Pt 019","Pt 021","Pt 028","Pt 035","Pt 048","Pt 049","Pt 060","Pt 064","Pt 084","Pt 086","Pt 088","Pt 106","Pt 110","Pt 111","Pt 113","Pt 120","Pt 133","Pt 148","Pt 153","Pt 157","Pt 168","Pt 169","Pt 182","Pt 186","Pt 187","Pt 188","Pt 196","Pt 206","Pt 216","Pt 217"],"paddingInner":0,"paddingOuter":0},"axis":{"labels":false,"ticks":false,"domain":false,"grid":true,"tickBand":"extent","gridColor":"#cccccc","title":"G1b","titleAngle":0,"titleAlign":"right","titleBaseline":"middle","titleFontSize":30,"titleFontWeight":"bold","titlePadding":11,"titleColor":"black"}},
 "color":{"field":"f","type":"quantitative","scale":{"type":"threshold","domain":[1,10,20,30,40,50,60,70,80,90],"range":["#ffffff","#3a8fd9","#7b3913","#e3e22e","#d88a47","#2f8c3f","#c2282e","#5b2686","#c1388f","#b4b4b4","#000000"]}}}},
{"width":86.5,"height":398,"view":{"stroke":"#7d7d7d","strokeWidth":1.5},"encoding":{
 "x":{"field":"k","type":"nominal","scale":{"domain":["L159F","S282T","F289L","C316N","C316Y","V321A","M414T"],"range":[0,121],"paddingInner":0,"paddingOuter":0},"axis":{"orient":"top","labels":false,"ticks":false,"domain":false,"title":null,"grid":true,"tickBand":"extent","gridColor":"#cccccc","values":["L159F","S282T","F289L","C316N","C316Y"]}},
 "y":{"field":"pt","type":"nominal","scale":{"domain":["Pt 009","Pt 011","Pt 012","Pt 013","Pt 016","Pt 019","Pt 021","Pt 028","Pt 035","Pt 048","Pt 049","Pt 060","Pt 064","Pt 084","Pt 086","Pt 088","Pt 106","Pt 110","Pt 111","Pt 113","Pt 120","Pt 133","Pt 148","Pt 153","Pt 157","Pt 168","Pt 169","Pt 182","Pt 186","Pt 187","Pt 188","Pt 196","Pt 206","Pt 216","Pt 217"],"paddingInner":0,"paddingOuter":0},"axis":{"orient":"right","ticks":false,"domain":false,"grid":true,"tickBand":"extent","gridColor":"#cccccc","title":null,"labelFontSize":10.5,"labelPadding":42,"labelColor":"#1a1a1a","labelOverlap":false,"labelBound":false}}},
 "layer":[
 {"data":{"name":"xB"},"transform":[{"filter":"datum.gt == 'G1b'"}],"mark":{"type":"rect","fill":"white","stroke":"#7d7d7d","strokeWidth":1}},
 {"data":{"name":"cB"},"transform":[{"filter":"datum.gt == 'G1b'"}],"mark":{"type":"rect"},"encoding":{"color":{"field":"f","type":"quantitative","scale":{"type":"threshold","domain":[1,10,20,30,40,50,60,70,80,90],"range":["#ffffff","#3a8fd9","#7b3913","#e3e22e","#d88a47","#2f8c3f","#c2282e","#5b2686","#c1388f","#b4b4b4","#000000"]}}}}
]},
{"width":1,"height":9,"data":{"values":[]},"mark":"text","encoding":{}},
{"width":1,"height":9,"data":{"values":[]},"mark":"text","encoding":{}},
{"width":835,"height":16,"view":{"stroke":"#4d4d4d","strokeWidth":1.2},"data":{"values":[{"t":"n.d.: no data available"}]},"mark":{"type":"text","fontSize":12,"fontWeight":"bold"},"encoding":{"text":{"field":"t"}}},
{"width":121,"height":16,"view":{"stroke":"#4d4d4d","strokeWidth":1.2},"data":{"values":[{"t":"n.d."}]},"mark":{"type":"text","fontSize":12,"fontWeight":"bold"},"encoding":{"text":{"field":"t"}}},
{"width":1,"height":3,"data":{"values":[]},"mark":"text","encoding":{}},
{"width":1,"height":3,"data":{"values":[]},"mark":"text","encoding":{}},
{"width":835,"height":13,"view":{"stroke":"#7d7d7d","strokeWidth":1.5},"data":{"name":"cA"},"transform":[{"filter":"datum.gt == 'G1l'"}],"mark":{"type":"rect"},"encoding":{
 "x":{"field":"k","type":"nominal","scale":{"domain":["K24R","Q24H","S24R","S24A","L28F","L28M","L28S","L28V","M28A","M28I","M28T","M28V","A30K","A30L","A30R","A30S","L30H","L30R","Q30E","Q30H","Q30K","Q30L","Q30R","R30E","R30Q","L31I","L31M","L31V","M31I","M31V","H58D","H58L","H58N","H58P","H58S","P58L","P58S","T58P","E62D","Q62D","A92T","Y93C","Y93H","Y93L","Y93N","Y93R","Y93S","Y93T"],"paddingInner":0,"paddingOuter":0},"axis":{"orient":"top","labels":false,"ticks":false,"domain":false,"title":null,"grid":true,"tickBand":"extent","gridColor":"#cccccc","gridWidth":1}},
 "y":{"field":"pt","type":"nominal","scale":{"domain":["Pt 171"],"paddingInner":0,"paddingOuter":0},"axis":{"labels":false,"ticks":false,"domain":false,"grid":false,"title":"G1l","titleAngle":0,"titleAlign":"right","titleBaseline":"middle","titleFontSize":30,"titleFontWeight":"bold","titlePadding":11,"titleColor":"black"}},
 "color":{"field":"f","type":"quantitative","scale":{"type":"threshold","domain":[1,10,20,30,40,50,60,70,80,90],"range":["#ffffff","#3a8fd9","#7b3913","#e3e22e","#d88a47","#2f8c3f","#c2282e","#5b2686","#c1388f","#b4b4b4","#000000"]}}}},
{"width":86.5,"height":13,"view":{"stroke":"#7d7d7d","strokeWidth":1.5},"data":{"name":"cB"},"transform":[{"filter":"datum.gt == 'G1l'"}],"mark":{"type":"rect"},"encoding":{
 "x":{"field":"k","type":"nominal","scale":{"domain":["L159F","S282T","F289L","C316N","C316Y","V321A","M414T"],"range":[0,121],"paddingInner":0,"paddingOuter":0},"axis":{"orient":"top","labels":false,"ticks":false,"domain":false,"title":null,"grid":true,"tickBand":"extent","gridColor":"#cccccc","values":["L159F","S282T","F289L","C316N","C316Y"]}},
 "y":{"field":"pt","type":"nominal","scale":{"domain":["Pt 171"],"paddingInner":0,"paddingOuter":0},"axis":{"orient":"right","ticks":false,"domain":false,"grid":false,"title":null,"labelFontSize":10.5,"labelPadding":42,"labelColor":"#1a1a1a"}}}},
{"width":1,"height":10,"data":{"values":[]},"mark":"text","encoding":{}},
{"width":1,"height":10,"data":{"values":[]},"mark":"text","encoding":{}},
{"width":835,"height":18,"view":{"stroke":"#4d4d4d","strokeWidth":1.2},"layer":[
 {"data":{"name":"colsA"},"mark":{"type":"point","filled":true,"size":210,"strokeWidth":1,"opacity":1},"encoding":{"x":{"field":"k","type":"nominal","scale":{"domain":["K24R","Q24H","S24R","S24A","L28F","L28M","L28S","L28V","M28A","M28I","M28T","M28V","A30K","A30L","A30R","A30S","L30H","L30R","Q30E","Q30H","Q30K","Q30L","Q30R","R30E","R30Q","L31I","L31M","L31V","M31I","M31V","H58D","H58L","H58N","H58P","H58S","P58L","P58S","T58P","E62D","Q62D","A92T","Y93C","Y93H","Y93L","Y93N","Y93R","Y93S","Y93T"],"paddingInner":0,"paddingOuter":0},"axis":null},"fill":{"field":"G3a","type":"nominal","scale":{"domain":["R","N","X"],"range":["black","white","white"]}},"stroke":{"field":"G3a","type":"nominal","scale":{"domain":["R","N","X"],"range":["black","black","black"]}},"shape":{"field":"G3a","type":"nominal","scale":{"domain":["R","N","X"],"range":["circle","circle","M-1,0A1,1,0,1,1,1,0A1,1,0,1,1,-1,0ZM-0.72,-0.72L0.72,0.72"]}}}},
 {"data":{"name":"grpA"},"mark":{"type":"rule","color":"#4d4d4d","strokeWidth":1},"encoding":{"x":{"field":"first","type":"nominal","bandPosition":0,"scale":{"domain":["K24R","Q24H","S24R","S24A","L28F","L28M","L28S","L28V","M28A","M28I","M28T","M28V","A30K","A30L","A30R","A30S","L30H","L30R","Q30E","Q30H","Q30K","Q30L","Q30R","R30E","R30Q","L31I","L31M","L31V","M31I","M31V","H58D","H58L","H58N","H58P","H58S","P58L","P58S","T58P","E62D","Q62D","A92T","Y93C","Y93H","Y93L","Y93N","Y93R","Y93S","Y93T"],"paddingInner":0,"paddingOuter":0},"axis":null}}}
]},
{"width":121,"height":18,"view":{"stroke":"#4d4d4d","strokeWidth":1.2},"layer":[
 {"data":{"name":"colsB"},"mark":{"type":"point","filled":true,"size":210,"strokeWidth":1,"opacity":1},"encoding":{"x":{"field":"k","type":"nominal","scale":{"domain":["L159F","S282T","F289L","C316N","C316Y","V321A","M414T"],"paddingInner":0,"paddingOuter":0},"axis":null},"fill":{"field":"G3a","type":"nominal","scale":{"domain":["R","N","X"],"range":["black","white","white"]}},"stroke":{"field":"G3a","type":"nominal","scale":{"domain":["R","N","X"],"range":["black","black","black"]}},"shape":{"field":"G3a","type":"nominal","scale":{"domain":["R","N","X"],"range":["circle","circle","M-1,0A1,1,0,1,1,1,0A1,1,0,1,1,-1,0ZM-0.72,-0.72L0.72,0.72"]}}}},
 {"data":{"name":"grpB"},"mark":{"type":"rule","color":"#4d4d4d","strokeWidth":1},"encoding":{"x":{"field":"first","type":"nominal","bandPosition":0,"scale":{"domain":["L159F","S282T","F289L","C316N","C316Y","V321A","M414T"],"paddingInner":0,"paddingOuter":0},"axis":null}}}
]},
{"width":1,"height":2,"data":{"values":[]},"mark":"text","encoding":{}},
{"width":1,"height":2,"data":{"values":[]},"mark":"text","encoding":{}},
{"width":835,"height":98,"view":{"stroke":"#7d7d7d","strokeWidth":1.5},"data":{"name":"cA"},"transform":[{"filter":"datum.gt == 'G3a'"}],"mark":{"type":"rect"},"encoding":{
 "x":{"field":"k","type":"nominal","scale":{"domain":["K24R","Q24H","S24R","S24A","L28F","L28M","L28S","L28V","M28A","M28I","M28T","M28V","A30K","A30L","A30R","A30S","L30H","L30R","Q30E","Q30H","Q30K","Q30L","Q30R","R30E","R30Q","L31I","L31M","L31V","M31I","M31V","H58D","H58L","H58N","H58P","H58S","P58L","P58S","T58P","E62D","Q62D","A92T","Y93C","Y93H","Y93L","Y93N","Y93R","Y93S","Y93T"],"paddingInner":0,"paddingOuter":0},"axis":{"orient":"top","labels":false,"ticks":false,"domain":false,"title":null,"grid":true,"tickBand":"extent","gridColor":"#cccccc","gridWidth":1}},
 "y":{"field":"pt","type":"nominal","scale":{"domain":["Pt 026","Pt 040","Pt 051","Pt 065","Pt 066","Pt 080","Pt 140","Pt 151","Pt 160"],"paddingInner":0,"paddingOuter":0},"axis":{"labels":false,"ticks":false,"domain":false,"grid":true,"tickBand":"extent","gridColor":"#cccccc","title":"G3a","titleAngle":0,"titleAlign":"right","titleBaseline":"middle","titleFontSize":30,"titleFontWeight":"bold","titlePadding":11,"titleColor":"black"}},
 "color":{"field":"f","type":"quantitative","scale":{"type":"threshold","domain":[1,10,20,30,40,50,60,70,80,90],"range":["#ffffff","#3a8fd9","#7b3913","#e3e22e","#d88a47","#2f8c3f","#c2282e","#5b2686","#c1388f","#b4b4b4","#000000"]}}}},
{"width":86.5,"height":98,"view":{"stroke":"#7d7d7d","strokeWidth":1.5},"encoding":{
 "x":{"field":"k","type":"nominal","scale":{"domain":["L159F","S282T","F289L","C316N","C316Y","V321A","M414T"],"range":[0,121],"paddingInner":0,"paddingOuter":0},"axis":{"orient":"top","labels":false,"ticks":false,"domain":false,"title":null,"grid":true,"tickBand":"extent","gridColor":"#cccccc","values":["L159F","S282T","F289L","C316N","C316Y"]}},
 "y":{"field":"pt","type":"nominal","scale":{"domain":["Pt 026","Pt 040","Pt 051","Pt 065","Pt 066","Pt 080","Pt 140","Pt 151","Pt 160"],"paddingInner":0,"paddingOuter":0},"axis":{"orient":"right","ticks":false,"domain":false,"grid":true,"tickBand":"extent","gridColor":"#cccccc","title":null,"labelFontSize":10.5,"labelPadding":42,"labelColor":"#1a1a1a","labelOverlap":false,"labelBound":false}}},
 "layer":[
 {"data":{"name":"xB"},"transform":[{"filter":"datum.gt == 'G3a'"}],"mark":{"type":"rect","fill":"white","stroke":"#7d7d7d","strokeWidth":1}},
 {"data":{"name":"cB"},"transform":[{"filter":"datum.gt == 'G3a'"}],"mark":{"type":"rect"},"encoding":{"color":{"field":"f","type":"quantitative","scale":{"type":"threshold","domain":[1,10,20,30,40,50,60,70,80,90],"range":["#ffffff","#3a8fd9","#7b3913","#e3e22e","#d88a47","#2f8c3f","#c2282e","#5b2686","#c1388f","#b4b4b4","#000000"]}}}}
]},
{"width":1,"height":5,"data":{"values":[]},"mark":"text","encoding":{}},
{"width":1,"height":5,"data":{"values":[]},"mark":"text","encoding":{}},
{"width":835,"height":18,"view":{"stroke":"#4d4d4d","strokeWidth":1.2},"layer":[
 {"data":{"name":"colsA"},"mark":{"type":"point","filled":true,"size":210,"strokeWidth":1,"opacity":1},"encoding":{"x":{"field":"k","type":"nominal","scale":{"domain":["K24R","Q24H","S24R","S24A","L28F","L28M","L28S","L28V","M28A","M28I","M28T","M28V","A30K","A30L","A30R","A30S","L30H","L30R","Q30E","Q30H","Q30K","Q30L","Q30R","R30E","R30Q","L31I","L31M","L31V","M31I","M31V","H58D","H58L","H58N","H58P","H58S","P58L","P58S","T58P","E62D","Q62D","A92T","Y93C","Y93H","Y93L","Y93N","Y93R","Y93S","Y93T"],"paddingInner":0,"paddingOuter":0},"axis":null},"fill":{"field":"G4d","type":"nominal","scale":{"domain":["R","N","X"],"range":["black","white","white"]}},"stroke":{"field":"G4d","type":"nominal","scale":{"domain":["R","N","X"],"range":["black","black","black"]}},"shape":{"field":"G4d","type":"nominal","scale":{"domain":["R","N","X"],"range":["circle","circle","M-1,0A1,1,0,1,1,1,0A1,1,0,1,1,-1,0ZM-0.72,-0.72L0.72,0.72"]}}}},
 {"data":{"name":"grpA"},"mark":{"type":"rule","color":"#4d4d4d","strokeWidth":1},"encoding":{"x":{"field":"first","type":"nominal","bandPosition":0,"scale":{"domain":["K24R","Q24H","S24R","S24A","L28F","L28M","L28S","L28V","M28A","M28I","M28T","M28V","A30K","A30L","A30R","A30S","L30H","L30R","Q30E","Q30H","Q30K","Q30L","Q30R","R30E","R30Q","L31I","L31M","L31V","M31I","M31V","H58D","H58L","H58N","H58P","H58S","P58L","P58S","T58P","E62D","Q62D","A92T","Y93C","Y93H","Y93L","Y93N","Y93R","Y93S","Y93T"],"paddingInner":0,"paddingOuter":0},"axis":null}}}
]},
{"width":121,"height":18,"view":{"stroke":"#4d4d4d","strokeWidth":1.2},"layer":[
 {"data":{"name":"colsB"},"transform":[{"filter":"datum.G4d != 'E'"}],"mark":{"type":"point","filled":true,"size":210,"strokeWidth":1,"opacity":1},"encoding":{"x":{"field":"k","type":"nominal","scale":{"domain":["L159F","S282T","F289L","C316N","C316Y","V321A","M414T"],"paddingInner":0,"paddingOuter":0},"axis":null},"fill":{"field":"G4d","type":"nominal","scale":{"domain":["R","N","X"],"range":["black","white","white"]}},"stroke":{"field":"G4d","type":"nominal","scale":{"domain":["R","N","X"],"range":["black","black","black"]}},"shape":{"field":"G4d","type":"nominal","scale":{"domain":["R","N","X"],"range":["circle","circle","M-1,0A1,1,0,1,1,1,0A1,1,0,1,1,-1,0ZM-0.72,-0.72L0.72,0.72"]}}}},
 {"data":{"name":"grpB"},"mark":{"type":"rule","color":"#4d4d4d","strokeWidth":1},"encoding":{"x":{"field":"first","type":"nominal","bandPosition":0,"scale":{"domain":["L159F","S282T","F289L","C316N","C316Y","V321A","M414T"],"paddingInner":0,"paddingOuter":0},"axis":null}}}
]},
{"width":1,"height":2,"data":{"values":[]},"mark":"text","encoding":{}},
{"width":1,"height":2,"data":{"values":[]},"mark":"text","encoding":{}},
{"width":835,"height":143,"view":{"stroke":"#7d7d7d","strokeWidth":1.5},"data":{"name":"cA"},"transform":[{"filter":"datum.gt == 'G4d'"}],"mark":{"type":"rect"},"encoding":{
 "x":{"field":"k","type":"nominal","scale":{"domain":["K24R","Q24H","S24R","S24A","L28F","L28M","L28S","L28V","M28A","M28I","M28T","M28V","A30K","A30L","A30R","A30S","L30H","L30R","Q30E","Q30H","Q30K","Q30L","Q30R","R30E","R30Q","L31I","L31M","L31V","M31I","M31V","H58D","H58L","H58N","H58P","H58S","P58L","P58S","T58P","E62D","Q62D","A92T","Y93C","Y93H","Y93L","Y93N","Y93R","Y93S","Y93T"],"paddingInner":0,"paddingOuter":0},"axis":{"orient":"top","labels":false,"ticks":false,"domain":false,"title":null,"grid":true,"tickBand":"extent","gridColor":"#cccccc","gridWidth":1}},
 "y":{"field":"pt","type":"nominal","scale":{"domain":["Pt 004","Pt 036","Pt 114","Pt 117","Pt 129","Pt 130","Pt 144","Pt 159","Pt 172","Pt 174","Pt 189","Pt 194","Pt 207^"],"paddingInner":0,"paddingOuter":0},"axis":{"labels":false,"ticks":false,"domain":false,"grid":true,"tickBand":"extent","gridColor":"#cccccc","title":"G4d","titleAngle":0,"titleAlign":"right","titleBaseline":"middle","titleFontSize":30,"titleFontWeight":"bold","titlePadding":11,"titleColor":"black"}},
 "color":{"field":"f","type":"quantitative","scale":{"type":"threshold","domain":[1,10,20,30,40,50,60,70,80,90],"range":["#ffffff","#3a8fd9","#7b3913","#e3e22e","#d88a47","#2f8c3f","#c2282e","#5b2686","#c1388f","#b4b4b4","#000000"]}}}},
{"width":86.5,"height":143,"view":{"stroke":"#7d7d7d","strokeWidth":1.5},"data":{"name":"cB"},"transform":[{"filter":"datum.gt == 'G4d'"}],"mark":{"type":"rect"},"encoding":{
 "x":{"field":"k","type":"nominal","scale":{"domain":["L159F","S282T","F289L","C316N","C316Y","V321A","M414T"],"range":[0,121],"paddingInner":0,"paddingOuter":0},"axis":{"orient":"top","labels":false,"ticks":false,"domain":false,"title":null,"grid":true,"tickBand":"extent","gridColor":"#cccccc","values":["L159F","S282T","F289L","C316N","C316Y"]}},
 "y":{"field":"pt","type":"nominal","scale":{"domain":["Pt 004","Pt 036","Pt 114","Pt 117","Pt 129","Pt 130","Pt 144","Pt 159","Pt 172","Pt 174","Pt 189","Pt 194","Pt 207^"],"paddingInner":0,"paddingOuter":0},"axis":{"orient":"right","ticks":false,"domain":false,"grid":true,"tickBand":"extent","gridColor":"#cccccc","title":null,"labelFontSize":10.5,"labelPadding":42,"labelColor":"#1a1a1a","labelOverlap":false,"labelBound":false}},
 "color":{"field":"f","type":"quantitative","scale":{"type":"threshold","domain":[1,10,20,30,40,50,60,70,80,90],"range":["#ffffff","#3a8fd9","#7b3913","#e3e22e","#d88a47","#2f8c3f","#c2282e","#5b2686","#c1388f","#b4b4b4","#000000"]}}}},
{"width":1,"height":5,"data":{"values":[]},"mark":"text","encoding":{}},
{"width":1,"height":5,"data":{"values":[]},"mark":"text","encoding":{}},
{"width":835,"height":23,"view":{"stroke":"#7d7d7d","strokeWidth":1.5},"data":{"name":"cA"},"transform":[{"filter":"datum.gt == 'MX'"}],"mark":{"type":"rect"},"encoding":{
 "x":{"field":"k","type":"nominal","scale":{"domain":["K24R","Q24H","S24R","S24A","L28F","L28M","L28S","L28V","M28A","M28I","M28T","M28V","A30K","A30L","A30R","A30S","L30H","L30R","Q30E","Q30H","Q30K","Q30L","Q30R","R30E","R30Q","L31I","L31M","L31V","M31I","M31V","H58D","H58L","H58N","H58P","H58S","P58L","P58S","T58P","E62D","Q62D","A92T","Y93C","Y93H","Y93L","Y93N","Y93R","Y93S","Y93T"],"paddingInner":0,"paddingOuter":0},"axis":{"orient":"top","labels":false,"ticks":false,"domain":false,"title":null,"grid":true,"tickBand":"extent","gridColor":"#cccccc","gridWidth":1}},
 "y":{"field":"pt","type":"nominal","scale":{"domain":["Pt 077","Pt 146"],"paddingInner":0,"paddingOuter":0},"axis":{"labels":false,"ticks":false,"domain":false,"grid":true,"tickBand":"extent","gridColor":"#cccccc","title":["G4d+G1b","G4a+G1b"],"titleX":-8,"titleY":11.5,"titleAngle":0,"titleAlign":"right","titleBaseline":"middle","titleFontSize":21,"titleLineHeight":22,"titleFontWeight":"bold","titleColor":"black"}},
 "color":{"field":"f","type":"quantitative","scale":{"type":"threshold","domain":[1,10,20,30,40,50,60,70,80,90],"range":["#ffffff","#3a8fd9","#7b3913","#e3e22e","#d88a47","#2f8c3f","#c2282e","#5b2686","#c1388f","#b4b4b4","#000000"]}}}},
{"width":86.5,"height":23,"view":{"stroke":"#7d7d7d","strokeWidth":1.5},"data":{"name":"cB"},"transform":[{"filter":"datum.gt == 'MX'"}],"mark":{"type":"rect"},"encoding":{
 "x":{"field":"k","type":"nominal","scale":{"domain":["L159F","S282T","F289L","C316N","C316Y","V321A","M414T"],"range":[0,121],"paddingInner":0,"paddingOuter":0},"axis":{"orient":"top","labels":false,"ticks":false,"domain":false,"title":null,"grid":true,"tickBand":"extent","gridColor":"#cccccc","values":["L159F","S282T","F289L","C316N","C316Y"]}},
 "y":{"field":"pt","type":"nominal","scale":{"domain":["Pt 077","Pt 146"],"paddingInner":0,"paddingOuter":0},"axis":{"orient":"right","ticks":false,"domain":false,"grid":true,"tickBand":"extent","gridColor":"#cccccc","title":null,"labelFontSize":10.5,"labelPadding":42,"labelColor":"#1a1a1a","labelOverlap":false,"labelBound":false}}}}
],
"config":{"view":{"stroke":null},"font":"Liberation Sans","text":{"color":"black"}}
}
